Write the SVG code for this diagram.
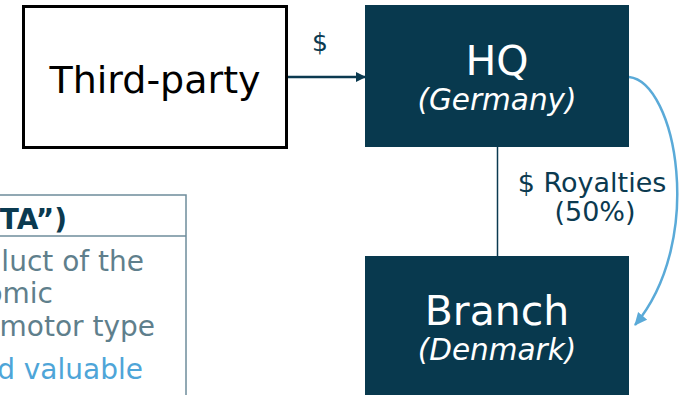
<svg xmlns="http://www.w3.org/2000/svg" width="682" height="395" viewBox="0 0 682 395">
<style>
text{font-family:"DejaVu Sans","Verdana",sans-serif}
.dark{fill:#08394e}
.white{fill:#ffffff}
.ink{fill:#0b3a50}
.gray{fill:#5f7f8c}
.blue{fill:#4ea5d8}
</style>
<defs>
<marker id="ahDark" markerWidth="10" markerHeight="10" refX="9" refY="5" orient="auto" markerUnits="userSpaceOnUse">
<path d="M0,0 L10,5 L0,10 Z" fill="#0b3a50"/>
</marker>
<marker id="ahBlue" markerWidth="14" markerHeight="14" refX="12" refY="6" orient="auto" markerUnits="userSpaceOnUse">
<path d="M0,0 L13,6 L0,12 Z" fill="#5aaad8"/>
</marker>
</defs>
<rect width="682" height="395" fill="#ffffff"/>
<g id="info-box">
<rect x="-10" y="195" width="196" height="210" fill="#ffffff" stroke="#6e8c9b" stroke-width="1.5"/>
<line x1="-10" y1="236" x2="186" y2="236" stroke="#6e8c9b" stroke-width="1.5"/>
<text x="67" y="229" text-anchor="end" font-size="28" font-weight="bold" class="ink">TA”)</text>
<text x="144" y="271" text-anchor="end" font-size="28" class="gray">luct of the</text>
<text x="53" y="303" text-anchor="end" font-size="28" class="gray">omic</text>
<text x="155" y="336" text-anchor="end" font-size="28" class="gray">motor type</text>
<text x="143" y="379" text-anchor="end" font-size="28" class="blue">d valuable</text>
</g>
<g id="third-party">
<rect x="23.5" y="6.5" width="263" height="141" fill="#ffffff" stroke="#000000" stroke-width="3"/>
<text x="155" y="93" text-anchor="middle" font-size="38" fill="#000000">Third-party</text>
</g>
<g id="hq">
<rect x="365" y="5" width="264" height="142" class="dark"/>
<text x="497" y="75" text-anchor="middle" font-size="41" class="white">HQ</text>
<text x="497" y="110" text-anchor="middle" font-size="29.5" font-style="italic" class="white">(Germany)</text>
</g>
<g id="branch">
<rect x="365" y="256" width="264" height="139" class="dark"/>
<text x="497" y="325" text-anchor="middle" font-size="41" class="white">Branch</text>
<text x="497" y="360" text-anchor="middle" font-size="29.5" font-style="italic" class="white">(Denmark)</text>
</g>
<g id="connectors">
<line x1="288" y1="77" x2="365" y2="77" stroke="#0b3a50" stroke-width="2.5" marker-end="url(#ahDark)"/>
<text x="320" y="51" text-anchor="middle" font-size="25" class="ink">$</text>
<line x1="497.5" y1="147" x2="497.5" y2="256" stroke="#0b3a50" stroke-width="1.5"/>
<path d="M629,77 C676,82 706,240 635,325" fill="none" stroke="#5aaad8" stroke-width="2.5" marker-end="url(#ahBlue)"/>
<text x="592" y="192" text-anchor="middle" font-size="27" class="ink">$ Royalties</text>
<text x="595" y="221" text-anchor="middle" font-size="27" class="ink">(50%)</text>
</g>
</svg>
